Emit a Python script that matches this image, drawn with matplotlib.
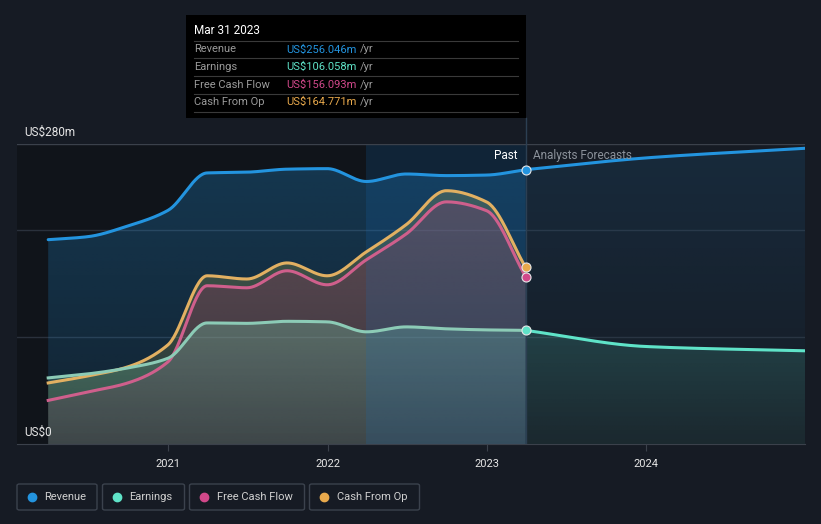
import numpy as np
import pandas as pd
import matplotlib
matplotlib.use('Agg')
import matplotlib.pyplot as plt
from matplotlib.colors import to_rgb
from matplotlib.patches import FancyBboxPatch, Rectangle
from matplotlib.lines import Line2D

plt.rcParams['font.family'] = ['Roboto', 'DejaVu Sans']

# data (US$m, trailing twelve months)
past_dates = ['2020-03-31', '2020-06-30', '2020-09-30', '2020-12-31',
              '2021-03-31', '2021-06-30', '2021-09-30', '2021-12-31',
              '2022-03-31', '2022-06-30', '2022-09-30', '2022-12-31',
              '2023-03-31']
revenue = [190.7, 193.5, 203.5, 218.0, 253.0, 253.7, 256.5, 257.0, 245.0, 252.0, 250.5, 251.0, 256.046]
earnings = [61.7, 65.4, 71.0, 80.0, 113.0, 112.6, 114.5, 114.0, 104.7, 109.3, 107.5, 106.5, 106.058]
fcf = [40.7, 48.6, 57.0, 76.6, 147.7, 145.8, 161.7, 148.6, 172.0, 196.0, 226.0, 217.8, 156.093]
cfo = [57.0, 63.5, 72.0, 92.5, 157.0, 154.0, 169.0, 157.0, 179.4, 204.7, 236.4, 226.0, 164.771]

fc_dates = ['2023-03-31', '2023-12-31', '2024-12-31']
revenue_fc = [256.046, 267.0, 276.0]
earnings_fc = [106.058, 91.0, 87.0]

year_ticks = [2021, 2022, 2023, 2024]
highlight_start = '2022-03-31'

C_REV = '#2394df'
C_EARN = '#5fe3c8'
C_FCF = '#d1488a'
C_CFO = '#e8a94c'
BG = '#161b24'
W, H = 821, 524


def dec_year(dates):
    d = pd.to_datetime(dates)
    days = np.where(d.is_leap_year, 366, 365)
    return np.asarray(d.year + (d.dayofyear - 1) / days, dtype=float)


def smooth(x, y, n=400):
    # monotone cubic (Fritsch-Carlson), like d3 curveMonotoneX
    x = np.asarray(x, float)
    y = np.asarray(y, float)
    h = np.diff(x)
    d = np.diff(y) / h
    m = np.zeros_like(y)
    m[0], m[-1] = d[0], d[-1]
    for k in range(1, len(y) - 1):
        if d[k - 1] * d[k] > 0:
            w1 = 2 * h[k] + h[k - 1]
            w2 = h[k] + 2 * h[k - 1]
            m[k] = (w1 + w2) / (w1 / d[k - 1] + w2 / d[k])
    xs = np.linspace(x[0], x[-1], n)
    idx = np.clip(np.searchsorted(x, xs) - 1, 0, len(x) - 2)
    t = (xs - x[idx]) / h[idx]
    h00 = 2 * t**3 - 3 * t**2 + 1
    h10 = t**3 - 2 * t**2 + t
    h01 = -2 * t**3 + 3 * t**2
    h11 = t**3 - t**2
    ys = h00 * y[idx] + h10 * h[idx] * m[idx] + h01 * y[idx + 1] + h11 * h[idx] * m[idx + 1]
    return xs, ys


def grad_fill(ax, x, y, color, a_top, a_bot, z):
    # vertical alpha gradient from 0 up to the series' own maximum
    poly = ax.fill_between(x, 0, y, facecolor='none', edgecolor='none')
    path = poly.get_paths()[0]
    grad = np.zeros((256, 1, 4))
    grad[..., :3] = to_rgb(color)
    grad[..., 3] = np.linspace(a_bot, a_top, 256)[:, None]
    im = ax.imshow(grad, extent=[x[0], x[-1], 0, np.max(y)], origin='lower',
                   aspect='auto', zorder=z, interpolation='bilinear')
    im.set_clip_path(path, transform=ax.transData)


def fx(px):
    return px / W


def fy(py):
    return 1 - py / H


xp = dec_year(past_dates)
xf = dec_year(fc_dates)
x_now = xp[-1]
x_hl = dec_year([highlight_start])[0]

fig = plt.figure(figsize=(W / 100, H / 100), dpi=100, facecolor=BG)
ax = fig.add_axes([fx(17), fy(444), fx(805) - fx(17), fy(144) - fy(444)])
ax.set_facecolor(BG)
xmin, xmax = 2020.05, xf[-1]

# past background
ax.axvspan(xmin, x_now, color='#10141a', zorder=0, lw=0)

# past fills
sx, s_rev = smooth(xp, revenue)
_, s_earn = smooth(xp, earnings)
_, s_fcf = smooth(xp, fcf)
_, s_cfo = smooth(xp, cfo)
grad_fill(ax, sx, s_rev, '#2394df', 0.27, 0.12, 1)
grad_fill(ax, sx, s_cfo, '#cabd4c', 0.27, 0.12, 2)
grad_fill(ax, sx, s_fcf, '#a62367', 0.27, 0.12, 3)
grad_fill(ax, sx, s_earn, '#7ee2bd', 0.27, 0.12, 4)

# forecast fills
fxs, f_rev = smooth(xf, revenue_fc)
_, f_earn = smooth(xf, earnings_fc)
grad_fill(ax, fxs, f_rev, C_REV, 0.13, 0.0, 1)
grad_fill(ax, fxs, f_earn, C_EARN, 0.17, 0.07, 2)

# highlight band of the last year
ax.axvspan(x_hl, x_now, color='#146ebe', alpha=0.18, zorder=5, lw=0)

# grid
for g in [100, 200]:
    ax.axhline(g, color='#2a313c', lw=1, zorder=0.5)
ax.axhline(280, color='#3b414b', lw=1, zorder=6)
ax.axvline(x_now, color='#2c3f52', lw=1, zorder=6)

# lines
ax.plot(sx, s_rev, color=C_REV, lw=2.2, zorder=7, solid_capstyle='round')
ax.plot(fxs, f_rev, color=C_REV, lw=2.2, zorder=7, solid_capstyle='round')
ax.plot(sx, s_cfo, color='#e2b062', lw=2.2, zorder=7)
ax.plot(sx, s_fcf, color='#cf5f8c', lw=2.2, zorder=7)
ax.plot(sx, s_earn, color='#8ccbb6', lw=2.2, zorder=7)
ax.plot(fxs, f_earn, color=C_EARN, lw=2.2, zorder=7)

# end-of-past markers
for val, col in [(revenue[-1], C_REV), (earnings[-1], C_EARN),
                 (fcf[-1], C_FCF), (cfo[-1], C_CFO)]:
    ax.plot([x_now], [val], 'o', ms=6.5, color=col, mec='#e8e8e8', mew=0.8, zorder=9)

ax.set_xlim(xmin, xmax)
ax.set_ylim(0, 280)
for s in ['top', 'right', 'left']:
    ax.spines[s].set_visible(False)
ax.spines['bottom'].set_color('#3b414b')
ax.set_yticks([])
ax.set_xticks(year_ticks)
ax.set_xticklabels([str(y) for y in year_ticks], color='#e6e6e6', fontsize=8)
ax.tick_params(axis='x', length=5, color='#3b414b', pad=6)

# y labels
fig.text(fx(24), fy(132), 'US$280m', color='#e6e6e6', fontsize=8.5, va='center')
fig.text(fx(24), fy(432), 'US$0', color='#e6e6e6', fontsize=8.5, va='center')

# divider above the plot, up to the tooltip
fig.add_artist(Line2D([fx(525.5)] * 2, [fy(118), fy(144)], color='#2c3f52', lw=1))
fig.text(fx(517), fy(156), 'Past', color='#ffffff', fontsize=8.5, ha='right', va='center')
fig.text(fx(533), fy(156), 'Analysts Forecasts', color='#8b919a', fontsize=8.5, ha='left', va='center')

# tooltip
fig.add_artist(Rectangle((fx(186), fy(118)), fx(526) - fx(186), fy(15) - fy(118),
                         transform=fig.transFigure, facecolor='#000000', edgecolor='none', zorder=10))
fig.text(fx(194), fy(31), 'Mar 31 2023', color='#ffffff', fontsize=8.5, va='center', zorder=11)
for ly in [41, 58.3, 76, 93.7, 111.5]:
    fig.add_artist(Line2D([fx(194), fx(518)], [fy(ly)] * 2, color='#3a3a3a', lw=0.8, zorder=11))
rows = [('Revenue', 'US$256.046m', C_REV), ('Earnings', 'US$106.058m', C_EARN),
        ('Free Cash Flow', 'US$156.093m', C_FCF), ('Cash From Op', 'US$164.771m', C_CFO)]
renderer = fig.canvas.get_renderer()
for (lab, val, col), ry in zip(rows, [49.5, 67, 84.5, 102]):
    fig.text(fx(194), fy(ry), lab, color='#9a9a9a', fontsize=8, va='center', zorder=11)
    vt = fig.text(fx(286), fy(ry), val, color=col, fontsize=8, va='center', zorder=11)
    x_end = vt.get_window_extent(renderer).x1
    fig.text(fx(x_end + 3.5), fy(ry), '/yr', color='#9a9a9a', fontsize=8, va='center', zorder=11)

# legend
legend_items = [('Revenue', C_REV, 17, 97), ('Earnings', C_EARN, 102.5, 184.5),
                ('Free Cash Flow', C_FCF, 189.5, 304.5), ('Cash From Op', C_CFO, 309.5, 419.5)]
for lab, col, x0, x1 in legend_items:
    fig.add_artist(FancyBboxPatch((fx(x0), fy(510)), fx(x1) - fx(x0), fy(484) - fy(510),
                                  boxstyle='round,pad=0,rounding_size=0.003',
                                  transform=fig.transFigure, facecolor='none',
                                  edgecolor='#3b424d', lw=1))
    fig.add_artist(Line2D([fx(x0 + 14.5)], [fy(497)], marker='o', ms=6, color=col, lw=0))
    fig.text(fx(x0 + 27), fy(497), lab, color='#d0d0d0', fontsize=8, va='center')

fig.savefig('out.png', dpi=100, facecolor=BG)
